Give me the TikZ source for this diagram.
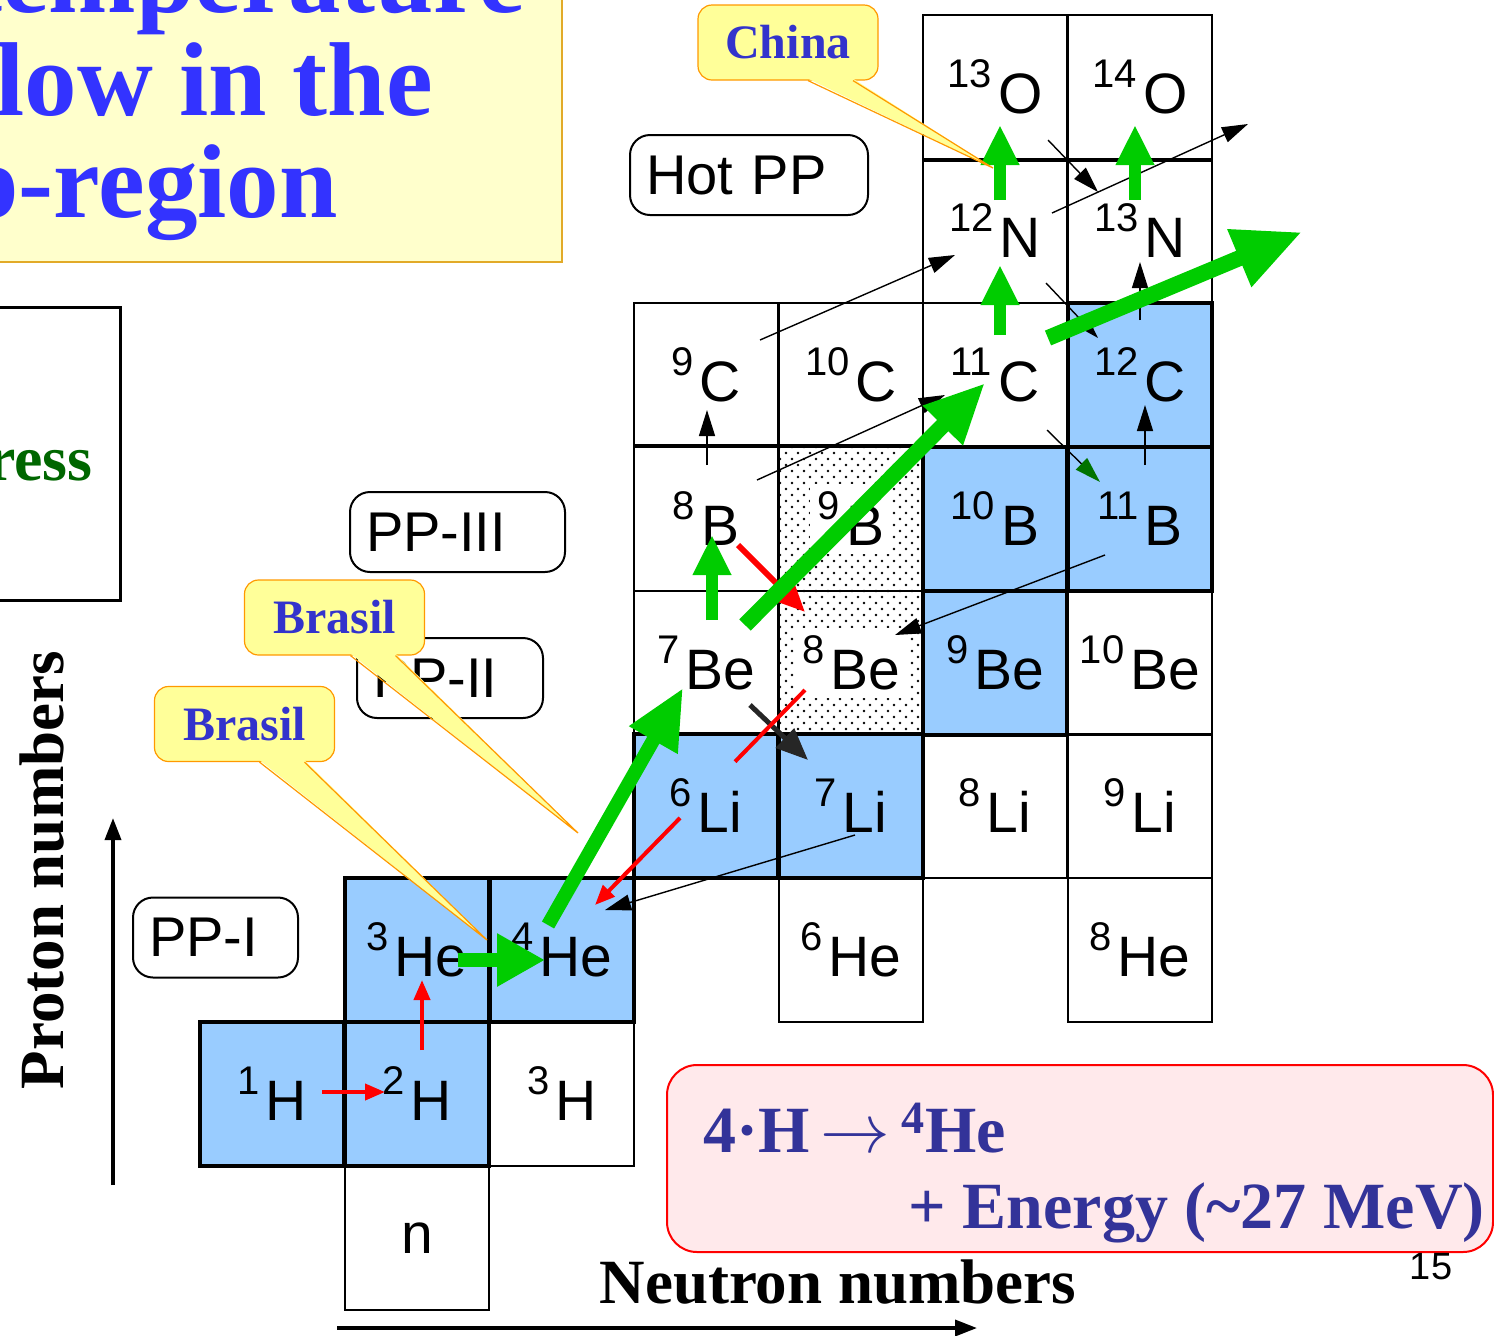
\documentclass[tikz,border=0pt]{standalone}
\usepackage{fontspec}
\setmainfont{Liberation Serif}
\setsansfont{Liberation Sans}
\usepackage{graphicx}
\usepackage{tikz}
\usetikzlibrary{arrows.meta, calc, patterns}

\definecolor{cellblue}{RGB}{153,204,255}
\definecolor{flowgreen}{RGB}{0,204,0}
\definecolor{titleblue}{RGB}{51,51,255}
\definecolor{titlefill}{RGB}{255,255,204}
\definecolor{titleline}{RGB}{226,170,40}
\definecolor{notefill}{RGB}{255,255,153}
\definecolor{noteline}{RGB}{255,153,0}
\definecolor{notetext}{RGB}{51,51,204}
\definecolor{eqfill}{RGB}{255,233,235}
\definecolor{eqtext}{RGB}{51,51,153}
\definecolor{ressgreen}{RGB}{0,102,0}

\pgfdeclarepatternformonly{sparsedots}{\pgfqpoint{-1pt}{-1pt}}{\pgfqpoint{5pt}{5pt}}{\pgfqpoint{6pt}{6pt}}{%
  \pgfpathcircle{\pgfqpoint{0pt}{0pt}}{0.65pt}%
  \pgfpathcircle{\pgfqpoint{3pt}{3pt}}{0.65pt}%
  \pgfusepath{fill}}

\newcommand{\nuc}[2]{\raisebox{13pt}{\fontsize{20}{20}\selectfont #1}\kern3pt#2}

\begin{document}
\begin{tikzpicture}[x=0.5pt, y=-0.5pt,
    cell/.style={draw, line width=0.8pt, minimum width=72pt, minimum height=72pt, inner sep=0pt, font=\sffamily\fontsize{28.5}{28.5}\selectfont},
    bluecell/.style={cell, fill=cellblue, line width=2pt},
    dotcell/.style={cell, pattern=sparsedots},
    dotlabel/.style={fill=white, inner sep=4pt, font=\sffamily\fontsize{28.5}{28.5}\selectfont},
    chain/.style={draw, line width=1pt, rounded corners=10pt, fill=white, minimum height=40pt, inner xsep=8pt, text width=#1, align=left, font=\sffamily\fontsize{28}{28}\selectfont},
    callout/.style={draw=noteline, line width=0.6pt, fill=notefill, rounded corners=7pt, minimum width=90pt, minimum height=37.5pt, text=notetext, font=\bfseries\fontsize{24}{24}\selectfont},
    flow/.style={flowgreen, line width=6pt, -{Triangle[length=20pt,width=18pt]}},
    bigflow/.style={flowgreen, line width=8pt, -{Triangle[length=30pt,width=26pt]}},
    hop/.style={red, line width=2pt, -{Triangle[length=10pt,width=8pt]}},
    react/.style={black, line width=0.7pt, -{Triangle[length=13pt,width=8pt]}},
    axis/.style={line width=1.8pt, -{Triangle[length=11pt,width=8pt]}}
]
\useasboundingbox (0,0) rectangle (1494,1335);
\clip (0,0) rectangle (1494,1335);

\draw[titleline, fill=titlefill, line width=0.8pt] (-20,-20) rectangle (562,262);
\node[anchor=base west, text=titleblue, font=\bfseries\fontsize{52.5}{52.5}\selectfont, inner sep=0pt] (title1) at (-33,12) {temperature};
\node[anchor=base west, text=titleblue, font=\bfseries\fontsize{52.5}{52.5}\selectfont, inner sep=0pt] (title2) at (-40,115) {flow in the};
\node[anchor=base west, text=titleblue, font=\bfseries\fontsize{52.5}{52.5}\selectfont, inner sep=0pt] (title3) at (-40,217) {p-region};

\draw[line width=1.5pt] (-20,307) rectangle (120,600);
\node[anchor=base east, text=ressgreen, font=\bfseries\fontsize{32}{32}\selectfont, inner sep=0pt] (ress) at (93,480) {ress};

\node[cell] (neut) at (417,1238) {n};
\node[cell] (h3) at (562,1094) {\nuc{3}{H}};
\node[cell] (he6) at (851,950) {\nuc{6}{He}};
\node[cell] (he8) at (1140,950) {\nuc{8}{He}};
\node[cell] (li8) at (995,806) {\nuc{8}{Li}};
\node[cell] (li9) at (1140,806) {\nuc{9}{Li}};
\node[cell] (be7) at (706,663) {\nuc{7}{Be}};
\node[cell] (be10) at (1140,663) {\nuc{10}{Be}};
\node[cell] (b8) at (706,519) {\nuc{8}{B}};
\node[cell] (c9) at (706,375) {\nuc{9}{C}};
\node[cell] (c10) at (851,375) {\nuc{10}{C}};
\node[cell] (c11) at (995,375) {\nuc{11}{C}};
\node[cell] (n12) at (995,231) {\nuc{12}{N}};
\node[cell] (n13) at (1140,231) {\nuc{13}{N}};
\node[cell] (o13) at (995,87) {\nuc{13}{O}};
\node[cell] (o14) at (1140,87) {\nuc{14}{O}};

\node[dotcell] (b9) at (851,519) {};
\node[dotcell] (be8) at (851,663) {};
\node[dotlabel] (b9lab) at (b9) {\nuc{9}{B}};
\node[dotlabel] (be8lab) at (be8) {\nuc{8}{Be}};

\node[bluecell] (h1) at (272,1094) {\nuc{1}{H}};
\node[bluecell] (h2) at (417,1094) {\nuc{2}{H}};
\node[bluecell] (he3) at (417,950) {\nuc{3}{He}};
\node[bluecell] (he4) at (562,950) {\nuc{4}{He}};
\node[bluecell] (li6) at (706,806) {\nuc{6}{Li}};
\node[bluecell] (li7) at (851,806) {\nuc{7}{Li}};
\node[bluecell] (be9) at (995,663) {\nuc{9}{Be}};
\node[bluecell] (b10) at (995,519) {\nuc{10}{B}};
\node[bluecell] (b11) at (1140,519) {\nuc{11}{B}};
\node[bluecell] (c12) at (1140,375) {\nuc{12}{C}};

\draw[line width=2pt] (o13.south west) -- (o14.south east);
\draw[line width=2pt] (b8.north west) -- (b9.north east);

\node[chain=103pt] (hotpp) at (749,175) {Hot PP};
\node[chain=91.5pt] (pp3) at (457.5,532) {PP-III};
\node[chain=77pt] (pp2) at (450,678) {PP-II};
\node[chain=66.5pt] (pp1) at (215.5,937.5) {PP-I};

\coordinate (ppout) at (1248,124);
\coordinate (rpout) at (1302,232);

\draw[react] ($(b8)+(1,-54)$) -- ($(c9)+(1,35)$);
\draw[react] ($(b8)+(51,-39)$) -- ($(c11)+(-50,20)$);
\draw[react] ($(c9)+(54,-35)$) -- ($(n12)+(-40,24)$);
\draw[react] ($(n12)+(51,52)$) -- ($(c12)+(-42,-37)$);
\draw[react, -{Triangle[length=13pt,width=8pt,color=green!45!black]}] ($(c11)+(52,55)$) -- ($(b11)+(-40,-37)$);
\draw[react] ($(o13)+(53,53)$) -- ($(n13)+(-42,-39)$);
\draw[react] ($(c12)+(0,-55)$) -- ($(n13)+(0,31)$);
\draw[react] ($(b11)+(5,-54)$) -- ($(c12)+(5,30)$);
\draw[react] ($(n12)+(57,-18)$) -- (ppout);
\draw[react] ($(b11)+(-35,36)$) -- ($(be8)+(44,-28)$);
\draw[react] ($(li7)+(4,29)$) -- ($(he4)+(43,-40)$);
\draw[black!85, line width=2.5pt, -{Triangle[length=16pt,width=13pt]}] ($(be7)+(44,42)$) -- ($(li7)+(-43,-46)$);

\draw[hop] ($(h1)+(50,-2)$) -- ($(h2)+(-32,-2)$);
\draw[hop] ($(h2)+(5,-44)$) -- ($(he3)+(5,30)$);
\draw[red, line width=3pt, -{Triangle[length=14pt,width=12pt]}] ($(b8)+(32,26)$) -- ($(be8)+(-46,-51)$);
\coordinate (rs) at ($(be8)+(-46,27)$);
\coordinate (re) at ($(he4)+(33,-45)$);
\draw[red, line width=2pt] (rs) -- ($(rs)!0.333!(re)$);
\draw[hop] ($(rs)!0.595!(re)$) -- (re);

\draw[flow, line width=7pt, -{Triangle[length=24pt,width=25pt]}] ($(he3)+(41,10)$) -- ($(he4)+(-17,10)$);
\draw[bigflow, line width=7pt] ($(he4)+(-14,-25)$) -- ($(be7)+(-23,25)$);
\draw[flow] ($(be7)+(6,-43)$) -- ($(b8)+(6,16)$);
\draw[bigflow] ($(be7)+(39,-38)$) -- ($(c11)+(-10,8)$);
\draw[flow] ($(c11)+(5,-40)$) -- ($(n12)+(5,34)$);
\draw[flow] ($(n12)+(5,-31)$) -- ($(o13)+(5,38)$);
\draw[flow] ($(n13)+(-5,-31)$) -- ($(o14)+(-5,38)$);
\draw[bigflow, -{Triangle[length=34pt,width=29pt]}] ($(c11)+(53,-37)$) -- (rpout);

\node[callout] (china) at (788,42.5) {China};
\coordinate (chinatip) at (993,168);
\fill[notefill] ($(china.south)+(20,-2)$) -- (chinatip) -- ($(china.south)+(65,-2)$) -- cycle;
\draw[noteline, line width=0.6pt] ($(china.south)+(20,0)$) -- (chinatip) -- ($(china.south)+(65,0)$);

\node[callout] (brasil2) at (334.5,617.5) {Brasil};
\coordinate (brasil2tip) at (578,833);
\fill[notefill] ($(brasil2.south)+(16,-2)$) -- (brasil2tip) -- ($(brasil2.south)+(61,-2)$) -- cycle;
\draw[noteline, line width=0.6pt] ($(brasil2.south)+(16,0)$) -- (brasil2tip) -- ($(brasil2.south)+(61,0)$);

\node[callout] (brasil1) at (244.5,724) {Brasil};
\coordinate (brasil1tip) at (487,940);
\fill[notefill] ($(brasil1.south)+(15,-2)$) -- (brasil1tip) -- ($(brasil1.south)+(60,-2)$) -- cycle;
\draw[noteline, line width=0.6pt] ($(brasil1.south)+(15,0)$) -- (brasil1tip) -- ($(brasil1.south)+(60,0)$);

\coordinate (zbase) at (113,1185);
\coordinate (ztip) at (113,818);
\draw[axis] (zbase) -- (ztip);
\node[rotate=90, font=\bfseries\fontsize{31.5}{31.5}\selectfont] (zlabel) at (42,870) {Proton numbers};
\coordinate (nbase) at (337,1328);
\coordinate (ntip) at (977,1328);
\draw[axis] (nbase) -- (ntip);
\node[font=\bfseries\fontsize{31.5}{31.5}\selectfont] (nlabel) at (838,1282) {Neutron numbers};

\node[draw=red, line width=1pt, fill=eqfill, rounded corners=15pt, minimum width=413pt, minimum height=93.5pt] (energy) at (1080,1158.5) {};
\node[anchor=base west, text=eqtext, font=\bfseries\fontsize{33}{33}\selectfont, inner sep=0pt] (eq1) at (703,1152) {4·H\,\scalebox{1.4}{$\rightarrow$}\,\textsuperscript{4}He};
\node[anchor=base east, text=eqtext, font=\bfseries\fontsize{33}{33}\selectfont, inner sep=0pt] (eq2) at (1485,1228) {+ Energy (\textasciitilde27 MeV)};

\node[anchor=base, font=\sffamily\fontsize{19}{19}\selectfont, inner sep=0pt] (page) at (1431,1279) {15};
\end{tikzpicture}
\end{document}
